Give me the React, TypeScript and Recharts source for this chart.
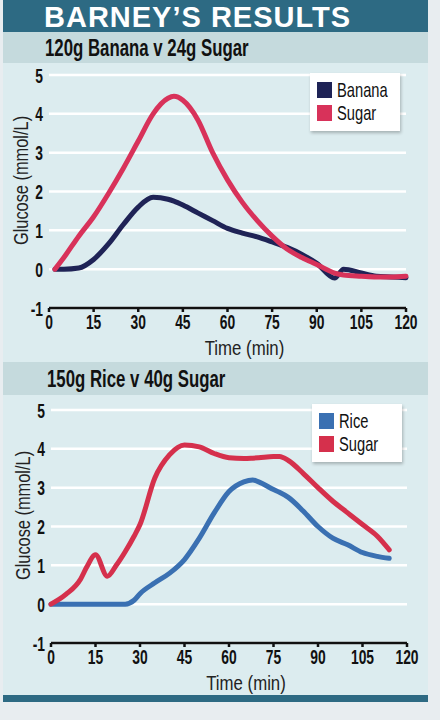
import React from 'react';
import { LineChart, Line, XAxis, YAxis, CartesianGrid, Legend, Label } from 'recharts';

const xTicks = [0, 15, 30, 45, 60, 75, 90, 105, 120];
const yTicks = [-1, 0, 1, 2, 3, 4, 5];

// chart 1: 120g banana v 24g sugar
const bananaTimes = [2, 5, 10, 15, 20, 25, 30, 35, 40, 42, 45, 50, 55, 60, 65, 70, 75, 80, 85, 90, 96, 99, 105, 110, 115, 120];
const bananaSugar = [0, 0.3, 0.85, 1.35, 1.95, 2.6, 3.3, 4.0, 4.4, 4.45, 4.35, 3.85, 3.0, 2.3, 1.72, 1.25, 0.85, 0.52, 0.3, 0.12, -0.1, -0.15, -0.18, -0.2, -0.2, -0.18];
const banana = [0, 0, 0.03, 0.25, 0.65, 1.15, 1.6, 1.85, 1.8, 1.75, 1.65, 1.45, 1.25, 1.05, 0.93, 0.83, 0.7, 0.56, 0.38, 0.15, -0.23, 0.0, -0.1, -0.18, -0.2, -0.22];

// chart 2: 150g rice v 40g sugar
const riceTimes = [0, 5, 10, 12, 15, 19, 22, 25, 28, 30, 35, 40, 45, 50, 55, 60, 65, 68, 70, 75, 77, 80, 85, 90, 95, 100, 105, 110, 114];
const riceSugar = [0, 0.25, 0.65, 0.95, 1.27, 0.72, 1.0, 1.35, 1.75, 2.05, 3.25, 3.85, 4.1, 4.05, 3.88, 3.77, 3.75, 3.76, 3.77, 3.8, 3.8, 3.7, 3.37, 3.0, 2.65, 2.35, 2.05, 1.75, 1.4];
const rice = [0, 0, 0, 0, 0, 0, 0, 0, 0.1, 0.27, 0.55, 0.8, 1.15, 1.7, 2.35, 2.9, 3.15, 3.2, 3.15, 2.95, 2.88, 2.75, 2.4, 2.0, 1.7, 1.53, 1.33, 1.23, 1.18];

const bananaData = bananaTimes.map((t, i) => ({ t, Banana: banana[i], Sugar: bananaSugar[i] }));
const riceData = riceTimes.map((t, i) => ({ t, Rice: rice[i], Sugar: riceSugar[i] }));

const FONT = '"Liberation Sans", Arial, sans-serif';
const BG = '#dcecef';
const BAND = '#c5dadd';
const DARK = '#2d6a83';

// squeezed text, the original uses a condensed face
const Narrow = ({ children, scale = 0.72, style }: any) => (
  <span style={{ display: 'inline-block', transform: `scaleX(${scale})`, transformOrigin: 'left center', whiteSpace: 'nowrap', ...style }}>
    {children}
  </span>
);

const LegendBox = ({ payload }: any) => (
  <div
    style={{
      background: '#fff',
      width: 90,
      height: 58,
      boxSizing: 'border-box',
      padding: '5px 0 0 7px',
      boxShadow: '1px 2px 3px rgba(0,0,0,0.25)',
      fontFamily: FONT,
      textAlign: 'left',
    }}
  >
    {(payload || []).map((p: any) => (
      <div key={p.value} style={{ display: 'flex', alignItems: 'center', height: 23, overflow: 'hidden' }}>
        <span style={{ width: 15, height: 16, background: p.color, display: 'inline-block', marginRight: 5, flex: 'none' }} />
        <Narrow scale={0.7} style={{ fontSize: 21, color: '#111', lineHeight: '21px' }}>{p.value}</Narrow>
      </div>
    ))}
  </div>
);

const yLabel = (dy: number) => (props: any) => {
  const vb = props.viewBox || {};
  const cx = vb.x + 12;
  const cy = vb.y + vb.height / 2 + dy;
  return (
    <g transform={`translate(${cx},${cy}) rotate(-90) scale(0.78,1)`}>
      <text x={0} y={0} textAnchor="middle" dominantBaseline="central" fill="#222" fontSize={21} fontFamily={FONT}>
        Glucose (mmol/L)
      </text>
    </g>
  );
};

const xLabel = (props: any) => {
  const vb = props.viewBox || {};
  const cx = vb.x + vb.width / 2 + 17;
  const cy = vb.y + 40;
  return (
    <g transform={`translate(${cx},${cy}) scale(0.8,1)`}>
      <text x={0} y={0} textAnchor="middle" dominantBaseline="central" fill="#222" fontSize={21} fontFamily={FONT}>
        Time (min)
      </text>
    </g>
  );
};

const XTick = ({ x, y, payload }: any) => (
  <g transform={`translate(${x},${y}) scale(0.66,1)`}>
    <text x={0} y={0} dy="0.78em" textAnchor="middle" fill="#111" fontSize={21} fontWeight={700} fontFamily={FONT}>
      {payload.value}
    </text>
  </g>
);

const YTick = ({ x, y, payload }: any) => (
  <g transform={`translate(${x},${y}) scale(0.66,1)`}>
    <text x={0} y={0} dy="0.36em" textAnchor="end" fill="#111" fontSize={21} fontWeight={700} fontFamily={FONT}>
      {payload.value}
    </text>
  </g>
);

function GlucoseChart({ data, keys, colors, margin, legendPos }: { data: any[]; keys: string[]; colors: string[]; margin: any; legendPos: { left: number; top: number } }) {
  return (
    <LineChart width={440} height={370} data={data} margin={margin}>
      <CartesianGrid horizontal vertical={false} stroke="#ffffff" strokeWidth={2.5} />
      <XAxis
        dataKey="t"
        type="number"
        domain={[0, 120]}
        ticks={xTicks}
        interval={0}
        height={50}
        axisLine={{ stroke: '#111', strokeWidth: 2.5 }}
        tickLine={{ stroke: '#111', strokeWidth: 2.5 }}
        tickSize={4}
        tickMargin={1}
        tick={<XTick />}
      >
        <Label content={xLabel} />
      </XAxis>
      <YAxis
        type="number"
        domain={[-1, 5]}
        ticks={yTicks}
        interval={0}
        width={40}
        axisLine={false}
        tickLine={false}
        tickSize={4}
        tickMargin={2}
        tick={<YTick />}
      >
        <Label content={yLabel(-11)} />
      </YAxis>
      <Legend
        layout="horizontal"
        verticalAlign="middle"
        align="center"
        content={<LegendBox />}
        wrapperStyle={{ position: 'absolute', top: legendPos.top, left: legendPos.left, width: 90, height: 58 }}
      />
      {keys.map((k, i) => (
        <Line
          key={k}
          dataKey={k}
          type="monotone"
          stroke={colors[i]}
          strokeWidth={5}
          strokeLinecap="round"
          strokeLinejoin="round"
          dot={false}
          activeDot={false}
          isAnimationActive={false}
        />
      ))}
    </LineChart>
  );
}

const header: React.CSSProperties = {
  position: 'absolute',
  left: 0,
  width: 425,
  background: BAND,
  fontFamily: FONT,
  fontWeight: 700,
  fontSize: 24,
  color: '#111',
  boxSizing: 'border-box',
  paddingLeft: 42,
};

export default function App() {
  return (
    <div style={{ position: 'absolute', left: 0, top: 0, width: 440, height: 720, background: '#e8edf0', overflow: 'hidden' }}>
      <div style={{ position: 'absolute', left: 3, top: 0, width: 425, height: 702, background: BG }}>
        <div
          style={{
            position: 'absolute',
            left: 0,
            top: 0,
            width: 425,
            height: 32,
            background: DARK,
            color: '#fff',
            fontFamily: FONT,
            fontWeight: 900,
            fontSize: 29,
            lineHeight: '34px',
            paddingLeft: 41,
            boxSizing: 'border-box',
            letterSpacing: 1,
          }}
        >
          BARNEY’S RESULTS
        </div>
        <div style={{ ...header, top: 32, height: 31, lineHeight: '31px' }}>
          <Narrow scale={0.7}>120g Banana v 24g Sugar</Narrow>
        </div>
        <div style={{ ...header, top: 362, height: 33, lineHeight: '33px', paddingLeft: 44 }}>
          <Narrow scale={0.7}>150g Rice v 40g Sugar</Narrow>
        </div>
        <div style={{ position: 'absolute', left: 0, top: 695, width: 425, height: 7, background: DARK }} />
      </div>
      <div style={{ position: 'absolute', left: 0, top: 0 }}>
        <GlucoseChart
          data={bananaData}
          keys={['Banana', 'Sugar']}
          colors={['#1f2356', '#d8325a']}
          margin={{ top: 75, right: 34, bottom: 12, left: 9 }}
          legendPos={{ left: 310, top: 73 }}
        />
      </div>
      <div style={{ position: 'absolute', left: 0, top: 335 }}>
        <GlucoseChart
          data={riceData}
          keys={['Rice', 'Sugar']}
          colors={['#3a70b2', '#d5304c']}
          margin={{ top: 75, right: 33, bottom: 12, left: 11 }}
          legendPos={{ left: 312, top: 69 }}
        />
      </div>
    </div>
  );
}
